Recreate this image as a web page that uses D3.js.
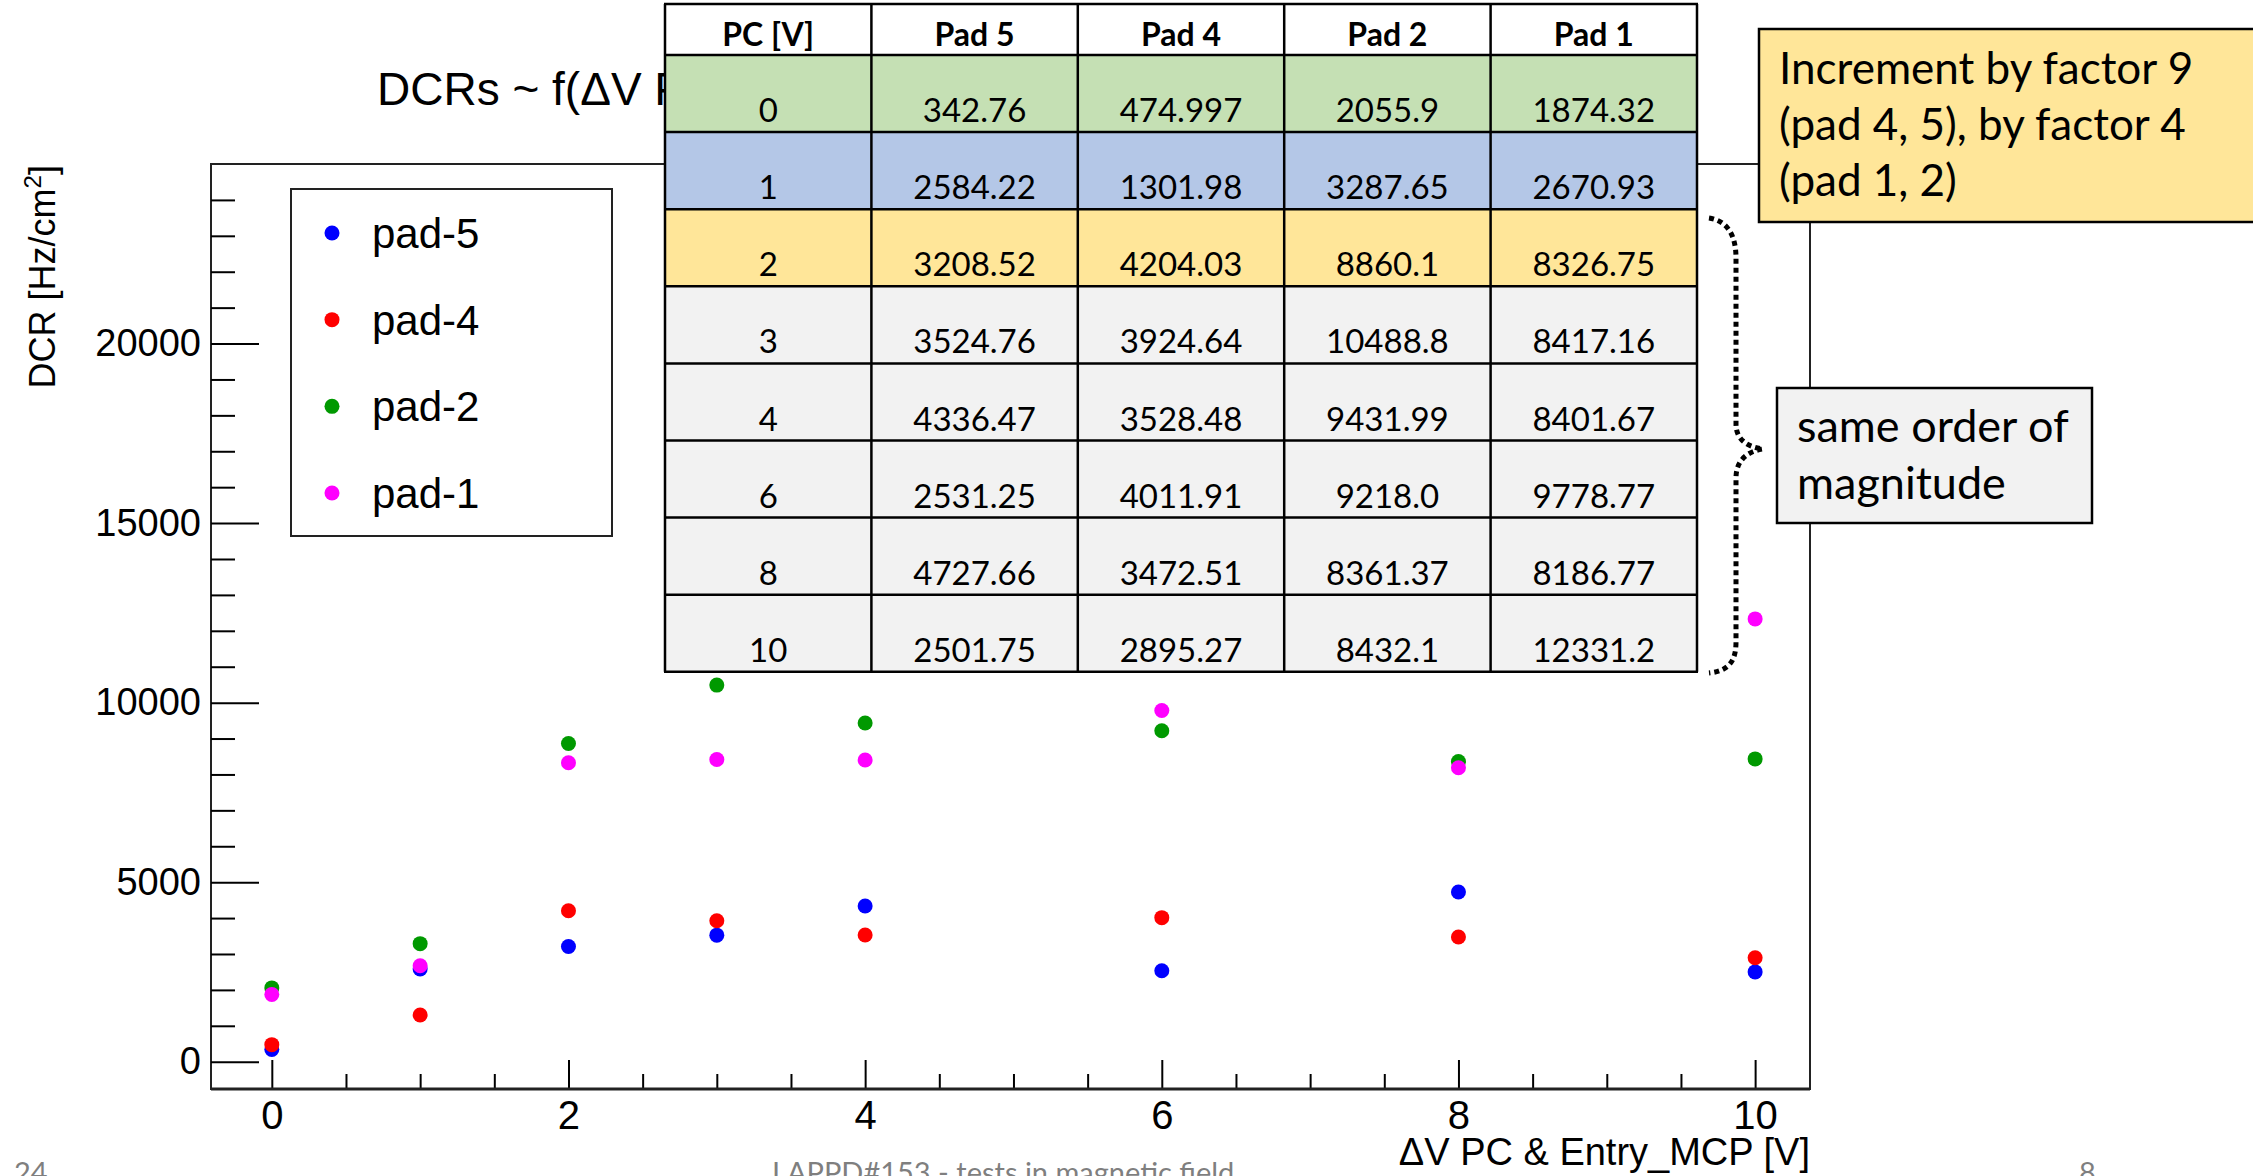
<!DOCTYPE html>
<html><head><meta charset="utf-8">
<script src="https://cdn.jsdelivr.net/npm/d3@7"></script>
<style>html,body{margin:0;padding:0;background:#fff;overflow:hidden}</style>
</head><body>
<script>
// ---------------- data ----------------
const pcVoltages = [0, 1, 2, 3, 4, 6, 8, 10];
const pad5 = [342.76, 2584.22, 3208.52, 3524.76, 4336.47, 2531.25, 4727.66, 2501.75];
const pad4 = [474.997, 1301.98, 4204.03, 3924.64, 3528.48, 4011.91, 3472.51, 2895.27];
const pad2 = [2055.9, 3287.65, 8860.1, 10488.8, 9431.99, 9218.0, 8361.37, 8432.1];
const pad1 = [1874.32, 2670.93, 8326.75, 8417.16, 8401.67, 9778.77, 8186.77, 12331.2];
const seriesNames = ["pad-5", "pad-4", "pad-2", "pad-1"];
const xTickValues = [0, 2, 4, 6, 8, 10];
const yTickValues = [0, 5000, 10000, 15000, 20000];
const tableHeader = ["PC [V]", "Pad 5", "Pad 4", "Pad 2", "Pad 1"];
const titleText = "DCRs ~ f(\u0394V PC & Entry_MCP)";
const xTitle = "\u0394V PC & Entry_MCP [V]";
const note1Lines = ["Increment by factor 9", "(pad 4, 5), by factor 4", "(pad 1, 2)"];
const note2Lines = ["same order of", "magnitude"];
const footerLeft = "24", footerCenter = "LAPPD#153 - tests in magnetic field", footerRight = "8";

// ---------------- styles ----------------
const seriesColors = ["#0000ff", "#ff0000", "#009900", "#ff00ff"];
const rowColors = ["#c5e0b4", "#b4c7e7", "#ffe699", "#f2f2f2", "#f2f2f2", "#f2f2f2", "#f2f2f2", "#f2f2f2"];
const rootFont = "'Liberation Sans', Arial, Helvetica, sans-serif";
const slideFont = "Lato, 'Open Sans', sans-serif";

const W = 2253, H = 1176;
const svg = d3.select("body").append("svg").attr("width", W).attr("height", H)
  .style("display", "block").style("background", "#fff");

const frame = {left: 211, right: 1810, top: 164, bottom: 1089};
const x = d3.scaleLinear().domain([-0.41, 10.37]).range([frame.left, frame.right]);
const y = d3.scaleLinear().domain([-760, 25000]).range([frame.bottom, frame.top]);

// title (partly covered by the table, as in the reference)
svg.append("text").attr("x", 377).attr("y", 105).attr("font-family", rootFont)
  .attr("font-size", 46).attr("fill", "#000").text(titleText);

// frame
svg.append("rect").attr("x", frame.left).attr("y", frame.top)
  .attr("width", frame.right - frame.left).attr("height", frame.bottom - frame.top)
  .attr("fill", "none").attr("stroke", "#222").attr("stroke-width", 2);

// y axis major / minor
const yMinor = d3.range(0, 25000, 1000).filter(v => !yTickValues.includes(v));
svg.append("g").attr("class", "yaxis").attr("transform", `translate(${frame.left},0)`)
  .call(d3.axisLeft(y).tickValues(yTickValues).tickSize(-48).tickPadding(10).tickFormat(d3.format("d")));
svg.append("g").attr("transform", `translate(${frame.left},0)`)
  .call(d3.axisLeft(y).tickValues(yMinor).tickSize(-24).tickFormat(""));
// x axis major / minor
const xMinor = d3.range(0, 10.01, 0.5).filter(v => !xTickValues.includes(v));
svg.append("g").attr("class", "xaxis").attr("transform", `translate(0,${frame.bottom})`)
  .call(d3.axisBottom(x).tickValues(xTickValues).tickSize(-29).tickPadding(12).tickFormat(d3.format("d")));
svg.append("g").attr("transform", `translate(0,${frame.bottom})`)
  .call(d3.axisBottom(x).tickValues(xMinor).tickSize(-15).tickFormat(""));
svg.selectAll(".domain").remove();
svg.selectAll(".tick line").attr("stroke", "#000").attr("stroke-width", 2);
svg.selectAll(".tick text").attr("font-family", rootFont).attr("fill", "#000");
svg.selectAll(".yaxis .tick text").attr("font-size", 38);
svg.selectAll(".xaxis .tick text").attr("font-size", 40);
// thicker bottom axis line
svg.append("line").attr("x1", frame.left).attr("x2", frame.right)
  .attr("y1", frame.bottom).attr("y2", frame.bottom).attr("stroke", "#222").attr("stroke-width", 3);

// axis titles
svg.append("text").attr("transform", `translate(55,${frame.top + 1}) rotate(-90)`)
  .attr("text-anchor", "end").attr("font-family", rootFont).attr("font-size", 36).attr("fill", "#000")
  .call(t => { t.append("tspan").text("DCR [Hz/cm");
               t.append("tspan").attr("font-size", 24).attr("dy", -14).text("2");
               t.append("tspan").attr("dy", 14).text("]"); });
svg.append("text").attr("x", frame.right).attr("y", 1165).attr("text-anchor", "end")
  .attr("font-family", rootFont).attr("font-size", 38).attr("fill", "#000").text(xTitle);

// points
const seriesValues = [pad5, pad4, pad2, pad1];
seriesValues.forEach((vals, si) => {
  svg.append("g").selectAll("circle").data(vals).join("circle")
    .attr("cx", (d, i) => x(pcVoltages[i])).attr("cy", d => y(d))
    .attr("r", 7.5).attr("fill", seriesColors[si]);
});

// legend
const legend = {left: 291, top: 189, right: 612, bottom: 536};
svg.append("rect").attr("x", legend.left).attr("y", legend.top)
  .attr("width", legend.right - legend.left).attr("height", legend.bottom - legend.top)
  .attr("fill", "#fff").attr("stroke", "#222").attr("stroke-width", 2);
const ly = d3.scalePoint().domain(seriesNames).range([233, 493]);
seriesNames.forEach((n, i) => {
  svg.append("circle").attr("cx", 332).attr("cy", ly(n)).attr("r", 7.5).attr("fill", seriesColors[i]);
  svg.append("text").attr("x", 372).attr("y", ly(n) + 15).attr("font-family", rootFont)
    .attr("font-size", 42).attr("fill", "#000").text(n);
});

// table
const tbl = {left: 665, top: 4, colW: 206.4, headH: 51, rowH: 77.1};
const fmt = v => Number.isInteger(v) ? v.toFixed(1) : String(v);
const tg = svg.append("g");
tg.append("rect").attr("x", tbl.left).attr("y", tbl.top).attr("width", tbl.colW * 5).attr("height", tbl.headH)
  .attr("fill", "#fff");
tableHeader.forEach((h, c) => {
  tg.append("text").attr("x", tbl.left + tbl.colW * (c + 0.5)).attr("y", tbl.top + 42)
    .attr("text-anchor", "middle").attr("font-family", slideFont).attr("font-weight", "bold")
    .attr("font-size", 32).attr("fill", "#000").text(h);
});
pcVoltages.forEach((v, r) => {
  const y0 = tbl.top + tbl.headH + r * tbl.rowH;
  tg.append("rect").attr("x", tbl.left).attr("y", y0).attr("width", tbl.colW * 5).attr("height", tbl.rowH)
    .attr("fill", rowColors[r]);
  const cells = [String(v), fmt(pad5[r]), fmt(pad4[r]), fmt(pad2[r]), fmt(pad1[r])];
  cells.forEach((s, c) => {
    tg.append("text").attr("x", tbl.left + tbl.colW * (c + 0.5)).attr("y", y0 + tbl.rowH - 10)
      .attr("text-anchor", "middle").attr("font-family", slideFont)
      .attr("font-size", 33).attr("fill", "#000").text(s);
  });
});
// grid lines
const tBottom = tbl.top + tbl.headH + pcVoltages.length * tbl.rowH;
for (let c = 0; c <= 5; c++) {
  tg.append("line").attr("x1", tbl.left + c * tbl.colW).attr("x2", tbl.left + c * tbl.colW)
    .attr("y1", tbl.top).attr("y2", tBottom).attr("stroke", "#000").attr("stroke-width", 2.5);
}
for (let r = 0; r <= pcVoltages.length + 1; r++) {
  const yy = r === 0 ? tbl.top : tbl.top + tbl.headH + (r - 1) * tbl.rowH;
  tg.append("line").attr("x1", tbl.left - 1).attr("x2", tbl.left + 5 * tbl.colW + 1)
    .attr("y1", yy).attr("y2", yy).attr("stroke", "#000").attr("stroke-width", 2.5);
}

// dotted brace
svg.append("path")
  .attr("d", "M1709,218 C1728,221 1736,236 1736,258 L1736,424 C1736,440 1748,447 1763,449 C1748,451 1736,460 1736,478 L1736,642 C1736,662 1728,671 1709,673")
  .attr("fill", "none").attr("stroke", "#000").attr("stroke-width", 5).attr("stroke-dasharray", "5,4");

// annotation boxes
svg.append("rect").attr("x", 1759).attr("y", 29).attr("width", 520).attr("height", 193)
  .attr("fill", "#ffe699").attr("stroke", "#000").attr("stroke-width", 2.5);
note1Lines.forEach((l, i) => svg.append("text").attr("x", 1779).attr("y", 84 + i * 56)
  .attr("font-family", slideFont).attr("font-size", 44).attr("fill", "#000").text(l));
svg.append("rect").attr("x", 1777).attr("y", 388).attr("width", 315).attr("height", 135)
  .attr("fill", "#f2f2f2").attr("stroke", "#000").attr("stroke-width", 2.5);
note2Lines.forEach((l, i) => svg.append("text").attr("x", 1797).attr("y", 442 + i * 57)
  .attr("font-family", slideFont).attr("font-size", 45).attr("fill", "#000").text(l));

// footer (cut by the bottom edge, as in the reference)
svg.append("text").attr("x", 14).attr("y", 1183).attr("font-family", slideFont).attr("font-size", 29)
  .attr("fill", "#7f7f7f").text(footerLeft);
svg.append("text").attr("x", 772).attr("y", 1183).attr("font-family", slideFont).attr("font-size", 29)
  .attr("fill", "#7f7f7f").text(footerCenter);
svg.append("text").attr("x", 2079).attr("y", 1183).attr("font-family", slideFont).attr("font-size", 29)
  .attr("fill", "#7f7f7f").text(footerRight);
</script>
</body></html>
